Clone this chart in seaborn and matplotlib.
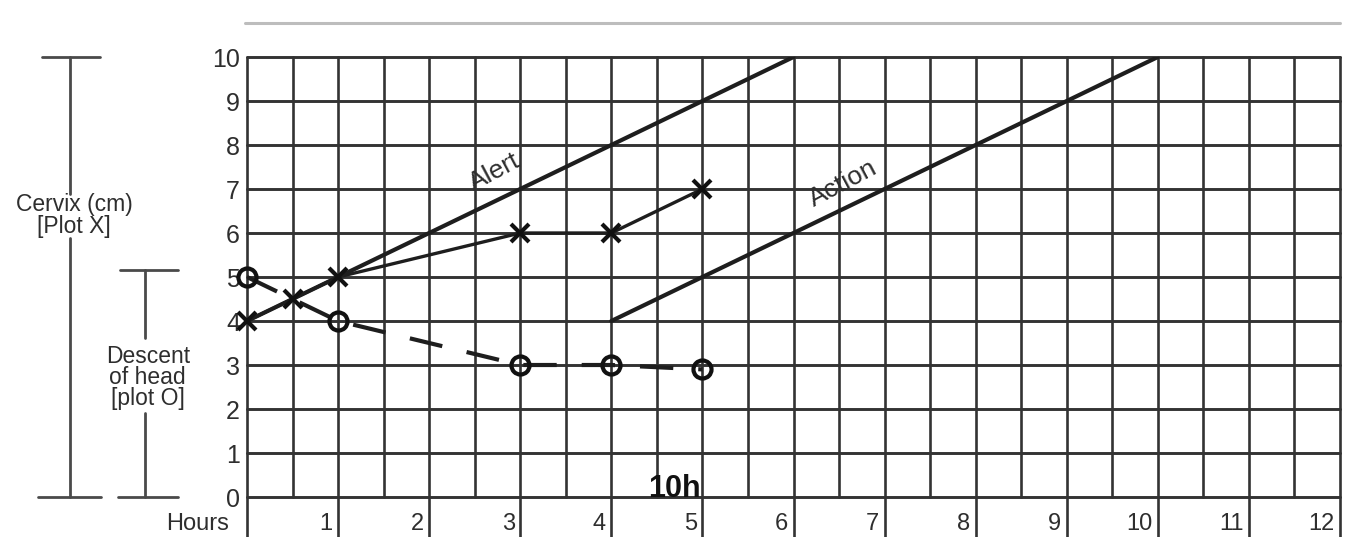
import matplotlib
matplotlib.use("Agg")
import matplotlib.pyplot as plt
import seaborn as sns

# -----------------------------
# DATA
# -----------------------------
hour_ticks = [1, 2, 3, 4, 5, 6, 7, 8, 9, 10, 11, 12]
cm_ticks = [0, 1, 2, 3, 4, 5, 6, 7, 8, 9, 10]

# cervix dilatation (plot X)
cervix_hours = [0, 0.5, 1, 3, 4, 5]
cervix_cm = [4, 4.5, 5, 6, 6, 7]

# descent of head (plot O)
descent_hours = [0, 1, 3, 4, 5]
descent_val = [5, 4, 3, 3, 2.9]

# alert / action lines
alert_hours = [0, 6]
alert_cm = [4, 10]
action_hours = [4, 10]
action_cm = [4, 10]

ink = "#1e1e1e"
grid_col = "#333333"
txt = "#2e2e2e"

sns.set_style("white")
plt.rcParams["font.family"] = ["Liberation Sans", "DejaVu Sans"]

fig = plt.figure(figsize=(13.66, 5.37), dpi=100)
ax = fig.add_axes([247 / 1366, 0, (1340 - 247) / 1366, (537 - 57) / 537])
ax.set_xlim(0, 12)
ax.set_ylim(-0.909, 10)
for s in ax.spines.values():
    s.set_visible(False)

# -----------------------------
# GRID
# -----------------------------
for c in cm_ticks:
    ax.plot([0, 12], [c, c], color=grid_col, lw=2.1, clip_on=False, zorder=1)
for i in range(0, 25):
    h = i / 2
    bottom = -0.909 if i % 2 == 0 else 0
    ax.plot([h, h], [bottom, 10], color=grid_col, lw=1.9, clip_on=False, zorder=1)

# top rule
ax.plot([-0.02, 12], [10.77, 10.77], color="#bdbdbd", lw=2.2, clip_on=False)

# -----------------------------
# ALERT / ACTION
# -----------------------------
sns.lineplot(x=alert_hours, y=alert_cm, ax=ax, color=ink, lw=3, sort=False,
             estimator=None, legend=False, zorder=3)
sns.lineplot(x=action_hours, y=action_cm, ax=ax, color=ink, lw=3, sort=False,
             estimator=None, legend=False, zorder=3)
ax.text(2.72, 7.38, "Alert", rotation=28, ha="center", va="center",
        fontsize=19, color=txt)
ax.text(6.55, 7.12, "Action", rotation=28, ha="center", va="center",
        fontsize=19, color=txt)

# -----------------------------
# CERVIX (X) AND DESCENT (O)
# -----------------------------
sns.lineplot(x=cervix_hours, y=cervix_cm, ax=ax, color=ink, lw=2.4, sort=False,
             estimator=None, legend=False, zorder=4)
ax.plot(cervix_hours, cervix_cm, ls="none", marker="x", ms=13, mew=3,
        color="#111111", clip_on=False, zorder=5)

sns.lineplot(x=descent_hours, y=descent_val, ax=ax, color=ink, lw=3, sort=False,
             estimator=None, legend=False, zorder=4, dashes=False)
ax.lines[-1].set_dashes([8, 6])
ax.plot(descent_hours, descent_val, ls="none", marker="o", ms=13, mew=3,
        mfc="none", mec="#111111", clip_on=False, zorder=5)

ax.text(4.4, 0.0, "10h", fontsize=22, fontweight="bold", color="#111111",
        ha="left", va="baseline", zorder=6)

# -----------------------------
# AXIS LABELS
# -----------------------------
ax.set_xticks([])
ax.set_yticks(cm_ticks)
ax.set_yticklabels([str(c) for c in cm_ticks], fontsize=18, color=txt)
ax.tick_params(axis="y", length=0, pad=5)
ax.set_xlabel("")
ax.set_ylabel("")

for h in hour_ticks:
    ax.text(h - 0.06, -0.62, str(h), ha="right", va="center", fontsize=17,
            color=txt)
ax.text(-0.2, -0.62, "Hours", ha="right", va="center", fontsize=17,
        color=txt, clip_on=False)

# left brackets
bc = "#4a4a4a"
ax.plot([-2.25, -1.61], [10, 10], color=bc, lw=2, clip_on=False)
ax.plot([-1.943, -1.943], [10, 6.88], color=bc, lw=2, clip_on=False)
ax.plot([-1.943, -1.943], [5.88, 0], color=bc, lw=2, clip_on=False)
ax.plot([-2.3, -1.6], [0, 0], color=bc, lw=2, clip_on=False)
ax.text(-1.9, 6.4, "Cervix (cm)\n[Plot X]", ha="center", va="center",
        fontsize=16.5, color=txt, linespacing=0.9)

ax.plot([-1.39, -0.76], [5.15, 5.15], color=bc, lw=2, clip_on=False)
ax.plot([-1.12, -1.12], [5.15, 3.62], color=bc, lw=2, clip_on=False)
ax.plot([-1.12, -1.12], [1.9, 0], color=bc, lw=2, clip_on=False)
ax.plot([-1.42, -0.76], [0, 0], color=bc, lw=2, clip_on=False)
ax.text(-1.09, 2.72, "Descent\nof head\n[plot O]", ha="center", va="center",
        fontsize=16.5, color=txt, linespacing=0.9)

fig.savefig("out.png", dpi=100)
